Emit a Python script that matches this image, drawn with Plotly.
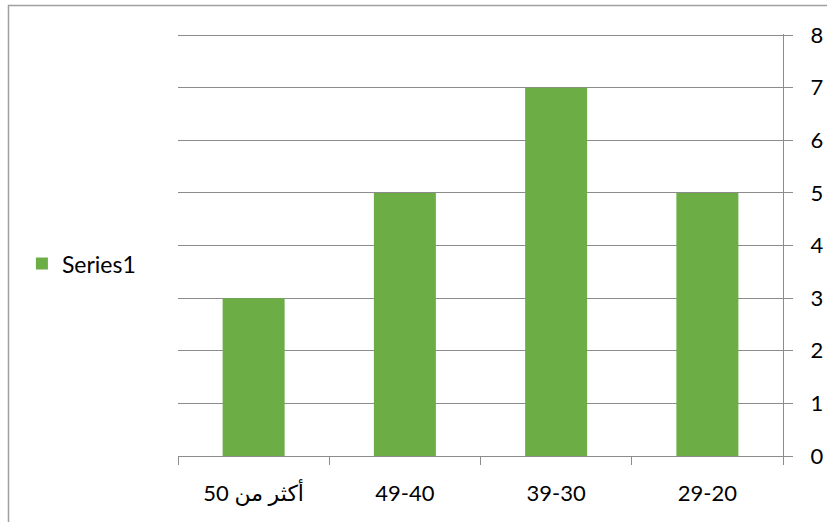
import plotly.graph_objects as go

categories = ["50 أكثر من", "49-40", "39-30", "29-20"]
values = [3, 5, 7, 5]
series_name = "Series1"
y_ticks = [0, 1, 2, 3, 4, 5, 6, 7, 8]

FONT = "Lato, DejaVu Sans, sans-serif"
GRID = "#8c8c8c"

fig = go.Figure()
fig.add_trace(go.Bar(
    x=categories, y=values, name=series_name,
    marker=dict(color="#6cae45", line=dict(width=0)),
    showlegend=True,
))

fig.update_layout(
    width=827, height=522,
    margin=dict(l=178, r=44, t=34, b=66),
    paper_bgcolor="white", plot_bgcolor="white",
    bargap=0.59,
    font=dict(family=FONT, size=22, color="#000000"),
    showlegend=True,
    legend=dict(x=-0.258, y=0.456, xanchor="left", yanchor="middle",
                font=dict(size=23), bgcolor="rgba(0,0,0,0)"),
    xaxis=dict(
        type="category", showgrid=False, showline=True, linecolor=GRID, linewidth=1,
        ticks="outside", tickson="boundaries", ticklen=8, tickcolor=GRID,
        tickfont=dict(size=22), ticklabelstandoff=18, automargin=False,
    ),
    yaxis=dict(
        side="right", range=[0, 8.02], tickvals=y_ticks, showgrid=True, gridcolor=GRID,
        gridwidth=1, showline=True, linecolor=GRID, linewidth=1,
        ticks="outside", ticklen=9, tickcolor=GRID, tickfont=dict(size=22),
        ticklabelstandoff=13, zeroline=False, automargin=False,
    ),
    shapes=[dict(type="rect", xref="paper", yref="paper",
                 x0=(8.5 - 178) / 605, x1=1.2, y0=-0.3, y1=(456 - 5.5) / 422,
                 line=dict(color="#a0a0a0", width=1.5), fillcolor="rgba(0,0,0,0)",
                 layer="below")],
)

fig.write_html("out.html")
